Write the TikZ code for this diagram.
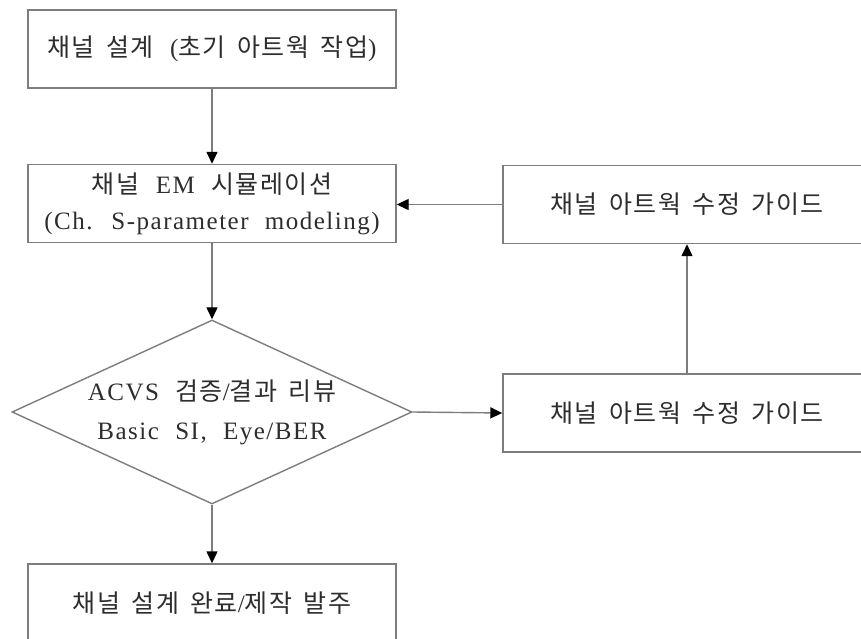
\documentclass[tikz,border=0pt]{standalone}
\usepackage{fontspec}
\setmainfont{Liberation Serif}[LetterSpace=6,WordSpace=2.1]
\newfontfamily\kr{Noto Sans CJK KR}[LetterSpace=6,WordSpace=1.6]
\usetikzlibrary{shapes.geometric,arrows.meta}
\newcommand\K[1]{{\kr #1}}
\definecolor{linegray}{RGB}{125,125,125}
\definecolor{textgray}{RGB}{45,45,45}

\begin{document}
\begin{tikzpicture}[x=1pt,y=-1pt,
  every node/.style={font=\fontsize{25}{36}\selectfont, text=textgray, align=center},
  stepbox/.style={draw=linegray, line width=1.4pt, rectangle, inner sep=0pt,
                  minimum width=368pt, minimum height=78pt},
  decision/.style={draw=linegray, line width=1.4pt, diamond, inner sep=0pt,
                   shape aspect=2.17, minimum width=400pt, minimum height=184pt},
  flow/.style={draw=linegray, line width=1.4pt,
               -{Triangle[length=12pt,width=11pt,color=black]}}]
  \useasboundingbox (0,0) rectangle (861,639);
  \clip (0,0) rectangle (861,639);

  % main column
  \node[stepbox] (design) at (212,49) {\K{채널 설계} (\K{초기 아트웍 작업})};
  \node[stepbox] (sim) at (212,203.5) {\K{채널} EM \K{시뮬레이션}\\(Ch. S-parameter modeling)};
  \node[decision, font=\fontsize{25}{39}\selectfont] (review) at (212,412)
       {ACVS \K{검증}/\K{결과 리뷰}\\Basic SI, Eye/BER};
  \node[stepbox] (done) at (212,603) {\K{채널 설계 완료}/\K{제작 발주}};

  % feedback column
  \node[stepbox] (guideA) at (687,204.5) {\K{채널 아트웍 수정 가이드}};
  \node[stepbox] (guideB) at (687,413) {\K{채널 아트웍 수정 가이드}};

  % connectors
  \draw[flow] (design) -- (sim);
  \draw[flow] (sim) -- (review);
  \draw[flow] (review) -- (done);
  \draw[flow] (review.east) -- (guideB.west);
  \draw[flow] (guideB) -- (guideA);
  \draw[flow] (guideA.west) -- (sim.east |- guideA.west);
\end{tikzpicture}
\end{document}
